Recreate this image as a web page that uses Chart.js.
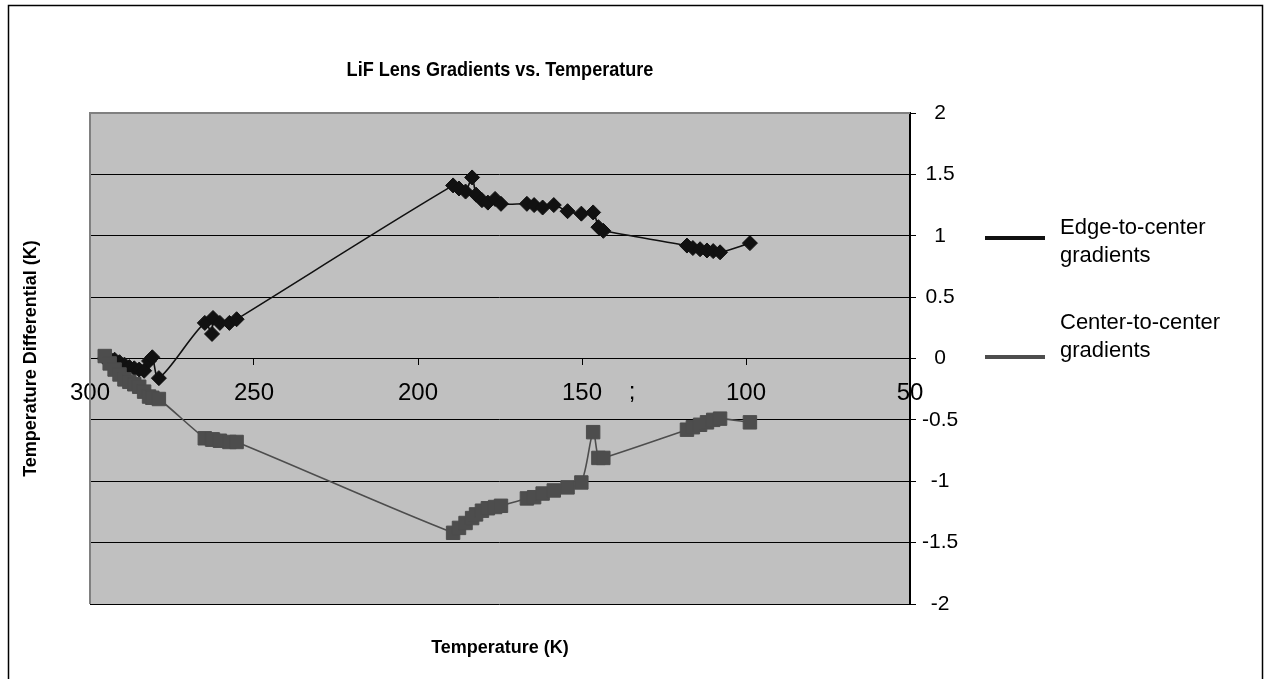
<!DOCTYPE html>
<html>
<head>
<meta charset="utf-8">
<script src="https://cdn.jsdelivr.net/npm/chart.js@4.4.0/dist/chart.umd.min.js"></script>
<style>
  html, body { margin: 0; padding: 0; background: #fff; }
  canvas { display: block; }
</style>
</head>
<body>
<canvas id="gradientChart" width="1267" height="679"></canvas>
<script>
// shared temperature readings (K), same for both series
const temperatures = [
  295.5, 294, 292.5, 291, 289.5, 288, 286.5, 285, 283.5, 282, 281, 279,
  265, 262.8, 262.5, 260.4, 257.5, 255.3,
  189.3, 187.5, 185.5, 183.5, 182.3, 180.5, 178.7, 176.5, 174.7,
  166.8, 164.6, 162, 158.6, 154.4, 150.2, 146.6, 145, 143.5,
  118, 116.2, 114, 111.9, 110, 107.9, 98.8
];

const edgeToCenter = [
  0.0, 0.0, -0.01, -0.03, -0.05, -0.07, -0.08, -0.09, -0.1, -0.02, 0.01, -0.16,
  0.29, 0.2, 0.33, 0.29, 0.29, 0.32,
  1.41, 1.385, 1.36, 1.475, 1.335, 1.29, 1.27, 1.3, 1.26,
  1.26, 1.25, 1.23, 1.25, 1.2, 1.18, 1.19, 1.07, 1.04,
  0.92, 0.9, 0.89, 0.88, 0.875, 0.865, 0.94
];

const centerToCenter = [
  0.02, -0.04, -0.09, -0.13, -0.17, -0.19, -0.21, -0.23, -0.27, -0.31, -0.32, -0.33,
  -0.65, -0.66, -0.66, -0.67, -0.68, -0.68,
  -1.42, -1.38, -1.34, -1.3, -1.27, -1.24, -1.22, -1.21, -1.2,
  -1.14, -1.13, -1.1, -1.075, -1.05, -1.01, -0.6, -0.81, -0.81,
  -0.58, -0.56, -0.54, -0.52, -0.5, -0.49, -0.52
];

const seriesNames = [["Edge-to-center", "gradients"], ["Center-to-center", "gradients"]];
const chartTitle = "LiF Lens Gradients vs. Temperature";
const xTitle = "Temperature (K)";
const yTitle = "Temperature Differential (K)";

const FONT = "'Liberation Sans', Arial, sans-serif";
const EDGE_COLOR = "#111111";
const CENTER_COLOR = "#4d4d4d";

function toPoints(values) {
  return values.map((v, i) => ({ x: temperatures[i], y: v }));
}

const decorPlugin = {
  id: "decor",
  beforeDraw(chart) {
    const { ctx, chartArea: a } = chart;
    ctx.save();
    ctx.fillStyle = "#c0c0c0";
    ctx.fillRect(a.left, a.top, a.right - a.left, a.bottom - a.top);
    ctx.restore();
  },
  afterDraw(chart) {
    const { ctx, chartArea: a } = chart;
    const midX = (a.left + a.right) / 2;
    ctx.save();

    // outer frame
    ctx.strokeStyle = "#000";
    ctx.lineWidth = 1.5;
    ctx.strokeRect(8.5, 5.5, 1254, 690);

    // plot frame, left and top in grey
    ctx.strokeStyle = "#808080";
    ctx.lineWidth = 2;
    ctx.beginPath();
    ctx.moveTo(a.left, a.bottom);
    ctx.lineTo(a.left, a.top);
    ctx.lineTo(a.right, a.top);
    ctx.stroke();

    ctx.fillStyle = "#000";
    ctx.textAlign = "center";
    ctx.textBaseline = "middle";

    // title is a little condensed in the original
    ctx.save();
    ctx.font = "bold 21px " + FONT;
    ctx.translate(midX, 70);
    ctx.scale(0.86, 1);
    ctx.fillText(chartTitle, 0, 0);
    ctx.restore();

    ctx.font = "bold 18px " + FONT;
    ctx.fillText(xTitle, midX, 648);

    ctx.save();
    ctx.translate(31, (a.top + a.bottom) / 2);
    ctx.rotate(-Math.PI / 2);
    ctx.fillText(yTitle, 0, 0);
    ctx.restore();

    // stray mark sitting among the x labels
    ctx.font = "24px " + FONT;
    ctx.fillText(";", 632, 392);

    // legend
    const colors = [EDGE_COLOR, CENTER_COLOR];
    const rows = [238, 357];
    ctx.font = "22px " + FONT;
    ctx.textAlign = "left";
    rows.forEach((y, i) => {
      ctx.strokeStyle = colors[i];
      ctx.lineWidth = 4;
      ctx.beginPath();
      ctx.moveTo(985, y);
      ctx.lineTo(1045, y);
      ctx.stroke();
      ctx.fillStyle = "#000";
      ctx.fillText(seriesNames[i][0], 1060, y - 10 - (i ? 24 : 0));
      ctx.fillText(seriesNames[i][1], 1060, y + 18 - (i ? 24 : 0));
    });

    ctx.restore();
  }
};

new Chart(document.getElementById("gradientChart"), {
  type: "scatter",
  data: {
    datasets: [
      {
        label: seriesNames[0].join(" "),
        data: toPoints(edgeToCenter),
        showLine: true,
        borderColor: EDGE_COLOR,
        backgroundColor: EDGE_COLOR,
        borderWidth: 1.6,
        tension: 0.3,
        pointStyle: "rectRot",
        pointRadius: 7.5,
        pointBorderWidth: 1,
        order: 2
      },
      {
        label: seriesNames[1].join(" "),
        data: toPoints(centerToCenter),
        showLine: true,
        borderColor: CENTER_COLOR,
        backgroundColor: CENTER_COLOR,
        borderWidth: 1.6,
        tension: 0.3,
        pointStyle: "rect",
        pointRadius: 9.5,
        pointBorderWidth: 1,
        order: 1
      }
    ]
  },
  options: {
    responsive: false,
    animation: false,
    layout: { padding: { left: 90, top: 113, right: 297, bottom: 75 } },
    plugins: {
      legend: { display: false },
      tooltip: { enabled: false }
    },
    scales: {
      x: {
        type: "linear",
        reverse: true,
        min: 50,
        max: 300,
        position: { y: 0 },
        ticks: {
          stepSize: 50,
          color: "#000",
          padding: 14,
          maxRotation: 0,
          font: { family: FONT, size: 24 }
        },
        grid: { drawOnChartArea: false, drawTicks: true, tickLength: 6, color: "#000" },
        border: { display: true, color: "#000", width: 1 }
      },
      y: {
        position: "right",
        min: -2,
        max: 2,
        afterFit(scale) { scale.width = 60; },
        ticks: {
          stepSize: 0.5,
          color: "#000",
          padding: 6,
          crossAlign: "center",
          font: { family: FONT, size: 21 },
          callback: (value) => String(value)
        },
        grid: {
          color: (c) => (c.tick && c.tick.value === 2 ? "#808080" : "#000"),
          lineWidth: 1,
          drawTicks: true,
          tickLength: 6,
          tickColor: "#000"
        },
        border: { display: true, color: "#000", width: 2 }
      }
    }
  },
  plugins: [decorPlugin]
});
</script>
</body>
</html>
